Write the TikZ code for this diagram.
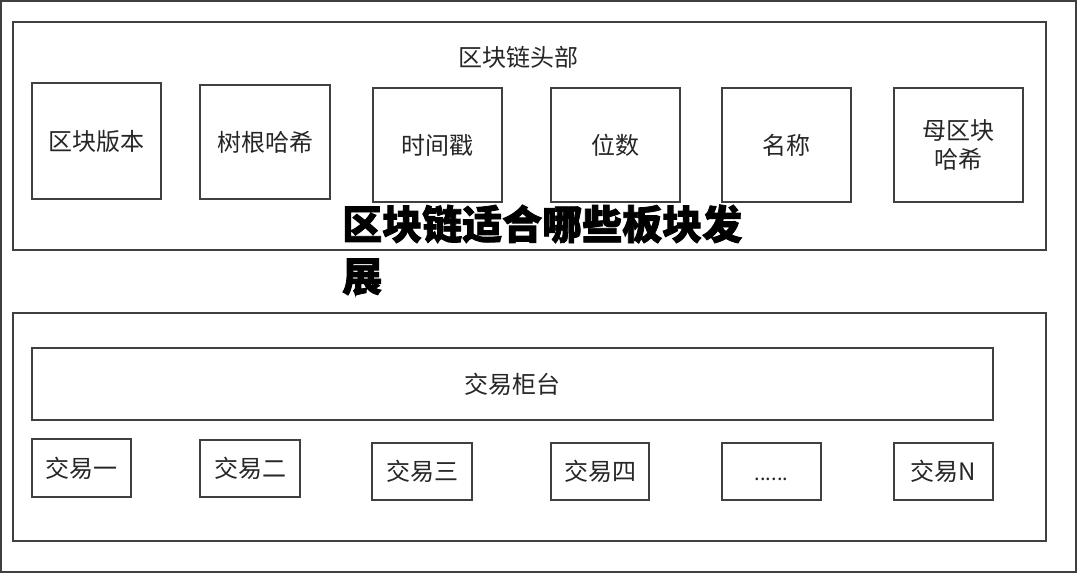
\documentclass[tikz,border=0pt]{standalone}
\usepackage{fontspec}
\newfontfamily\cjk{Noto Sans CJK SC}
\newfontfamily\cjkheavy{Noto Sans CJK SC}[FakeBold=2]
\begin{document}
\begin{tikzpicture}[x=1pt,y=-1pt,
  frame/.style={draw=black!75, line width=1.1pt, inner sep=0pt, outer sep=0pt},
  fieldbox/.style={frame, align=center, font=\cjk\fontsize{24}{29}\selectfont, text=black!85},
  lbl/.style={font=\cjk\fontsize{24}{29}\selectfont, text=black!85, inner sep=0pt}]
\useasboundingbox (0,0) rectangle (1080,573);
\fill[white] (0,0) rectangle (1080,573);
% outer frame and panels
\node[frame, minimum width=1075pt, minimum height=571pt] (outer) at (538.5,286.5) {};
\node[frame, minimum width=1033pt, minimum height=228pt] (headpanel) at (529.5,136) {};
\node[frame, minimum width=1033pt, minimum height=228pt] (txpanel) at (529.5,427) {};
\node[lbl] (headtitle) at (518,57) {区块链头部};
% header fields
\node[fieldbox, minimum width=129pt, minimum height=116pt] (f1) at (96.5,141) {区块版本};
\node[fieldbox, minimum width=130pt, minimum height=114pt] (f2) at (265,142) {树根哈希};
\node[fieldbox, minimum width=129pt, minimum height=114pt] (f3) at (437.5,145) {时间戳};
\node[fieldbox, minimum width=129pt, minimum height=114pt] (f4) at (615.5,145) {位数};
\node[fieldbox, minimum width=129pt, minimum height=114pt] (f5) at (786.5,145) {名称};
\node[fieldbox, minimum width=129pt, minimum height=114pt] (f6) at (958.5,145) {母区块\\哈希};
% transactions
\node[fieldbox, minimum width=961pt, minimum height=72pt] (counter) at (512.5,384) {交易柜台};
\node[fieldbox, minimum width=99pt, minimum height=58pt] (t1) at (81.5,468) {交易一};
\node[fieldbox, minimum width=100pt, minimum height=57pt] (t2) at (250,468.5) {交易二};
\node[fieldbox, minimum width=100pt, minimum height=57pt] (t3) at (422,471.5) {交易三};
\node[fieldbox, minimum width=98pt, minimum height=57pt] (t4) at (600,471.5) {交易四};
\node[fieldbox, minimum width=99pt, minimum height=57pt] (t5) at (771.5,471.5) {\vphantom{交}\fontsize{20}{24}\selectfont ......};
\node[fieldbox, minimum width=99pt, minimum height=57pt] (t6) at (943.5,471.5) {交易N};
% overlay title
\node[anchor=west, align=left, inner sep=0pt, font=\cjkheavy\bfseries\fontsize{40}{52}\selectfont] (overlay) at (342,250) {区块链适合哪些板块发\\展};
\end{tikzpicture}
\end{document}
